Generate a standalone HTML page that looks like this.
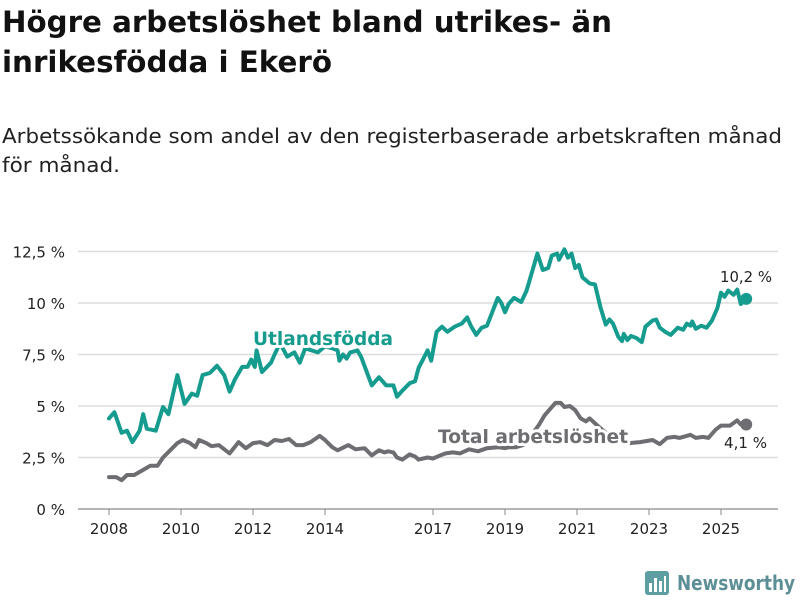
<!DOCTYPE html>
<html><head><meta charset="utf-8"><style>
html,body{margin:0;padding:0;background:#fff;width:800px;height:600px;overflow:hidden}
svg{display:block;font-family:"DejaVu Sans","Liberation Sans",sans-serif}
</style></head><body>
<svg id="chart" width="800" height="600" viewBox="0 0 800 600">
<text x="2" y="32" font-size="29" font-weight="bold" fill="#111" textLength="610" lengthAdjust="spacingAndGlyphs">Högre arbetslöshet bland utrikes- än</text>
<text x="2" y="72" font-size="29" font-weight="bold" fill="#111" textLength="330" lengthAdjust="spacingAndGlyphs">inrikesfödda i Ekerö</text>
<text x="2" y="143" font-size="20" fill="#222" textLength="780" lengthAdjust="spacingAndGlyphs">Arbetssökande som andel av den registerbaserade arbetskraften månad</text>
<text x="2" y="172" font-size="20" fill="#222" textLength="118" lengthAdjust="spacingAndGlyphs">för månad.</text>
<g id="grid"></g><g id="lines"></g><g id="labels"></g>
<g>
<rect x="645" y="571" width="24" height="24" rx="3" fill="#5d9ea3"/>
<rect x="649" y="583" width="3" height="9" fill="#fff"/><rect x="654" y="578" width="3" height="14" fill="#fff"/><rect x="659" y="581" width="3" height="11" fill="#fff"/><rect x="664" y="576" width="2" height="16" fill="#fff"/>
<text x="677" y="590" font-size="20" font-weight="bold" fill="#5d8f96" textLength="118" lengthAdjust="spacingAndGlyphs">Newsworthy</text>
</g>
</svg>
<script>
const yTicks=[0,2.5,5,7.5,10,12.5];
const yTickLabels=["0 %","2,5 %","5 %","7,5 %","10 %","12,5 %"];
const xTicks=[2008,2010,2012,2014,2017,2019,2021,2023,2025];
const utlDates=[2008.0,2008.15,2008.35,2008.5,2008.65,2008.85,2008.95,2009.05,2009.3,2009.5,2009.65,2009.9,2010.1,2010.3,2010.45,2010.6,2010.8,2011.0,2011.2,2011.35,2011.5,2011.7,2011.85,2011.95,2012.05,2012.1,2012.25,2012.5,2012.6,2012.75,2012.95,2013.15,2013.3,2013.45,2013.8,2014.0,2014.2,2014.35,2014.4,2014.5,2014.6,2014.7,2014.9,2015.0,2015.3,2015.5,2015.7,2015.9,2016.0,2016.15,2016.35,2016.5,2016.6,2016.85,2016.95,2017.1,2017.25,2017.4,2017.6,2017.8,2017.95,2018.05,2018.2,2018.35,2018.5,2018.8,2018.9,2019.0,2019.1,2019.25,2019.45,2019.6,2019.9,2020.05,2020.2,2020.3,2020.45,2020.5,2020.65,2020.75,2020.85,2020.95,2021.05,2021.15,2021.35,2021.5,2021.65,2021.8,2021.9,2022.0,2022.15,2022.25,2022.3,2022.4,2022.5,2022.65,2022.8,2022.9,2023.1,2023.2,2023.3,2023.45,2023.6,2023.8,2023.95,2024.05,2024.15,2024.2,2024.3,2024.45,2024.6,2024.75,2024.9,2025.0,2025.1,2025.2,2025.35,2025.45,2025.55,2025.7];
const utlValues=[4.4,4.7,3.7,3.8,3.25,3.8,4.6,3.9,3.8,4.95,4.6,6.5,5.1,5.6,5.5,6.5,6.6,6.95,6.5,5.7,6.3,6.9,6.9,7.25,6.9,7.7,6.65,7.1,7.5,8.05,7.4,7.6,7.1,7.8,7.6,7.9,7.8,7.7,7.2,7.5,7.3,7.6,7.7,7.4,6.0,6.4,6.0,6.0,5.45,5.75,6.1,6.2,6.85,7.7,7.2,8.6,8.85,8.6,8.85,9.0,9.3,8.9,8.45,8.8,8.9,10.25,10.0,9.55,9.95,10.25,10.05,10.6,12.4,11.6,11.7,12.3,12.4,12.1,12.6,12.2,12.4,11.7,11.85,11.25,10.95,10.9,9.8,8.95,9.2,9.0,8.35,8.15,8.5,8.2,8.4,8.3,8.1,8.85,9.15,9.2,8.8,8.6,8.45,8.8,8.7,9.0,8.9,9.1,8.75,8.9,8.8,9.15,9.75,10.5,10.3,10.6,10.4,10.65,9.95,10.2];
const totDates=[2008.0,2008.2,2008.35,2008.5,2008.7,2008.95,2009.15,2009.35,2009.5,2009.7,2009.9,2010.05,2010.25,2010.4,2010.5,2010.7,2010.85,2011.05,2011.35,2011.6,2011.8,2012.0,2012.2,2012.4,2012.6,2012.8,2013.0,2013.2,2013.4,2013.6,2013.85,2014.0,2014.2,2014.35,2014.65,2014.85,2015.1,2015.3,2015.5,2015.65,2015.75,2015.9,2016.0,2016.15,2016.35,2016.5,2016.6,2016.85,2017.0,2017.2,2017.35,2017.55,2017.75,2018.0,2018.25,2018.5,2018.8,2019.0,2019.1,2019.3,2019.5,2019.7,2019.95,2020.1,2020.4,2020.55,2020.65,2020.8,2020.95,2021.1,2021.25,2021.35,2021.6,2021.8,2022.0,2022.2,2022.45,2022.75,2023.1,2023.3,2023.5,2023.7,2023.85,2024.15,2024.3,2024.5,2024.65,2024.85,2025.0,2025.25,2025.45,2025.55,2025.7];
const totValues=[1.55,1.55,1.4,1.65,1.65,1.9,2.1,2.1,2.5,2.85,3.2,3.35,3.2,3.0,3.35,3.2,3.05,3.1,2.7,3.25,2.95,3.2,3.25,3.1,3.35,3.3,3.4,3.1,3.1,3.25,3.55,3.35,3.0,2.85,3.1,2.9,2.95,2.6,2.85,2.75,2.8,2.75,2.5,2.4,2.65,2.55,2.4,2.5,2.45,2.6,2.7,2.75,2.7,2.9,2.8,2.95,3.0,2.95,3.0,3.0,3.1,3.5,4.1,4.55,5.15,5.15,4.95,5.0,4.8,4.4,4.25,4.4,4.0,3.7,3.4,3.25,3.2,3.25,3.35,3.15,3.45,3.5,3.45,3.6,3.45,3.5,3.45,3.85,4.05,4.05,4.3,4.1,4.1];
const NS="http://www.w3.org/2000/svg";
const xS=t=>109+(t-2008)*36;
const yS=v=>509-v*20.6;
function mk(tag,attrs,parent){const e=document.createElementNS(NS,tag);for(const k in attrs)e.setAttribute(k,attrs[k]);parent.appendChild(e);return e;}
const grid=document.getElementById('grid'),lines=document.getElementById('lines'),labels=document.getElementById('labels');
yTicks.forEach((v,i)=>{
  const l=mk('line',{x1:78,x2:778,y1:yS(v),y2:yS(v),stroke:i===0?'#888':'#ddd','stroke-width':i===0?1.2:1.5},grid);
  
  
  const t=mk('text',{x:65,y:yS(v)+6,'text-anchor':'end','font-size':15,fill:'#222'},grid);
  t.textContent=yTickLabels[i];
  
  
});
xTicks.forEach(yr=>{
  const m=mk('line',{x1:xS(yr),x2:xS(yr),y1:509,y2:515,stroke:'#888','stroke-width':1},grid);
  
  
  const t=mk('text',{x:xS(yr),y:534,'text-anchor':'middle','font-size':15,fill:'#222'},grid);
  t.textContent=yr;
  
  
});
function series(d,v,color,name){
  const p=d.map((t,i)=>(i?'L':'M')+xS(t).toFixed(1)+','+yS(v[i]).toFixed(1)).join('');
  const path=mk('path',{d:p,fill:'none',stroke:color,'stroke-width':4,'stroke-linejoin':'round','stroke-linecap':'round'},lines);
  
  
  const n=d.length-1;
  const c=mk('circle',{cx:xS(d[n]),cy:yS(v[n]),r:6,fill:color},lines);
  
  
}
series(totDates,totValues,'#6e6d72','total');
series(utlDates,utlValues,'#169c8e','utlandsfodda');
function lab(x,y,txt,size,w,col,name,len){
  const a={x:x,y:y,'font-size':size,'font-weight':w,fill:col,stroke:'#fff','stroke-width':w==='bold'?6:4,'paint-order':'stroke','stroke-linejoin':'round'};
  if(len){a.textLength=len;a.lengthAdjust='spacingAndGlyphs';}
  const t=mk('text',a,labels);
  t.textContent=txt;
  
  
}
lab(253,345,'Utlandsfödda',19,'bold','#169c8e','utlandsfodda-label',140);
lab(438,443,'Total arbetslöshet',19,'bold','#6e6d72','total-label',190);
lab(720,282,'10,2 %',15,'normal','#222','utlandsfodda-end-value',52);
lab(724,448,'4,1 %',15,'normal','#222','total-end-value',43);
</script>
</body></html>
